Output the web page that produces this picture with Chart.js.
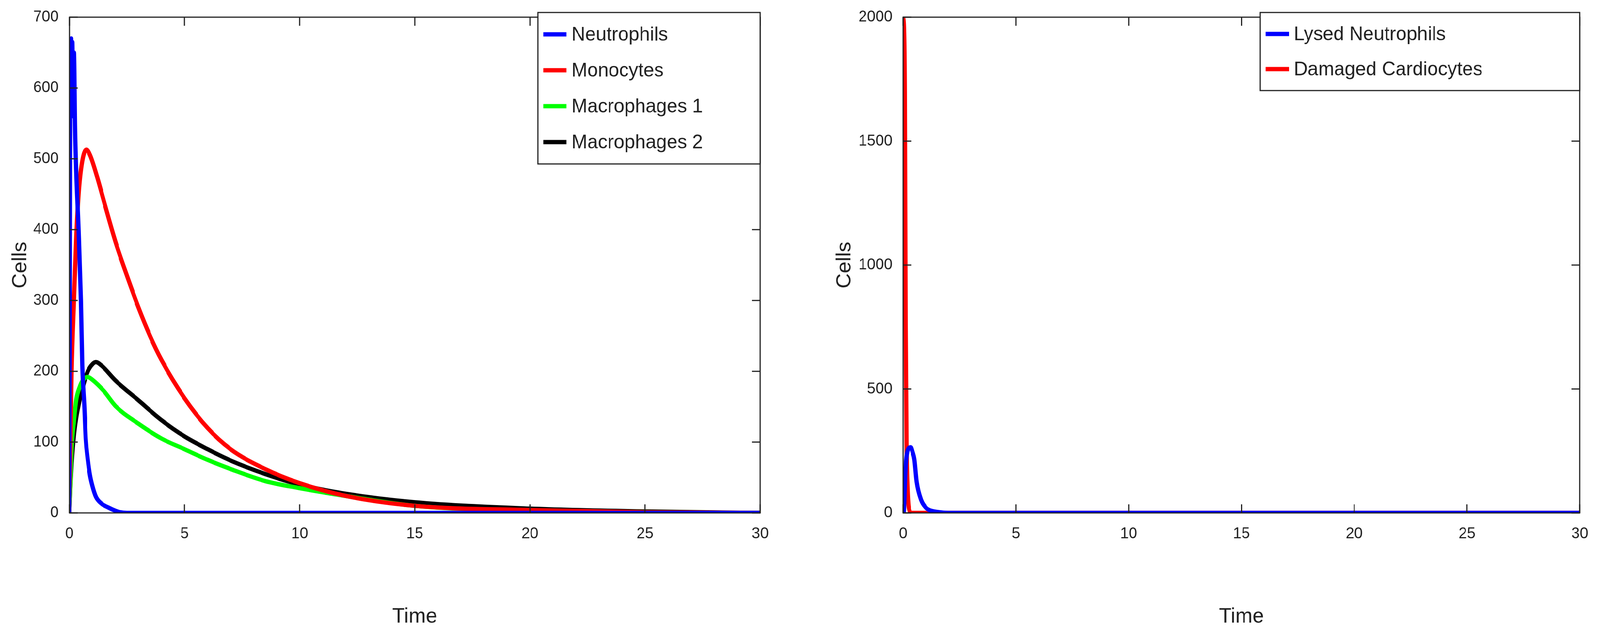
<!DOCTYPE html>
<html><head><meta charset="utf-8">
<script src="https://cdn.jsdelivr.net/npm/chart.js@4"></script>
<style>html,body{margin:0;background:#fff;overflow:hidden}
#wrap{position:absolute;left:0;top:0;width:4197px;height:1637px;transform-origin:0 0}
div.c{position:absolute;top:0;height:1637px}</style></head><body>
<div id="wrap">
<div class="c" style="left:0;width:2100px"><canvas id="a"></canvas></div>
<div class="c" style="left:2100px;width:2097px"><canvas id="b"></canvas></div>
</div>
<script>
const tNeu=[0,0.02,0.04,0.06,0.08,0.1,0.13,0.16,0.2,0.25,0.3,0.4,0.5,0.56,0.65,0.71,0.8,0.89,1.0,1.15,1.4,1.67,2.0,2.2,2.5,5,10,20,30];
const vNeu=[0,210,560,640,670,560,665,600,650,540,480,400,300,208,150,105,75,54,38,23,13,8,3,1,0,0,0,0,0];
const tMono=[0,0.05,0.1,0.2,0.3,0.4,0.55,0.74,0.9,1.2,1.5,2,2.5,3,3.5,4,5,6,7,8.5,10,12,15,20,25,30];
const vMono=[0,100,200,300,390,450,495,513,505,475,440,383,335,290,250,216,162,120,90,62,42,24,10,4,1,0];
const tM1=[0,0.05,0.1,0.2,0.3,0.45,0.6,0.8,1.0,1.5,2,3,4,5,6,7,8.5,10,12,15,20,25,28,30];
const vM1=[0,40,90,130,160,178,188,192,188,172,151,126,105,90,75,62,45,35,24,10,3,1,0,0];
const tM2=[0,0.05,0.1,0.2,0.3,0.45,0.6,0.8,1.0,1.15,1.4,2,3,4,5,6,7,8.5,10,12,15,20,25,30];
const vM2=[0,40,70,110,135,160,180,200,210,213,208,187,159,131,108,90,74,55,40,27,15,6,2,0];
const tLys=[0,0.03,0.05,0.08,0.12,0.18,0.25,0.34,0.42,0.5,0.6,0.8,1.0,1.2,1.5,2,3,10,20,30];
const vLys=[0,5,40,120,200,245,262,265,245,215,126,52,22,10,4,0,0,0,0,0];
const tDam=[0,0.04,0.075,0.11,0.15,0.19,0.23,0.28,0.34,1,5,10,20,30];
const vDam=[2000,1950,1690,773,275,110,37,10,0,0,0,0,0,0];
const xTicks=[0,5,10,15,20,25,30];
const yTicksA=[0,100,200,300,400,500,600,700];
const yTicksB=[0,500,1000,1500,2000];

const wrap=document.getElementById('wrap');
wrap.style.transform='scale('+(window.innerWidth/4197)+','+(window.innerHeight/1637)+')';

const F='"Liberation Sans", Arial, sans-serif';
const pts=(t,v)=>t.map((x,i)=>({x,y:v[i]}));
function ds(label,t,v,c){return {label,data:pts(t,v),borderColor:c,backgroundColor:c,borderWidth:11,pointRadius:0,cubicInterpolationMode:'monotone'};}

function boxPlugin(legendX,legendW,rowH,titleX){return {id:'box',afterDraw(ch){
  const c=ch.ctx,a=ch.chartArea,xs=ch.scales.x,ys=ch.scales.y;
  c.save();c.strokeStyle='#222';c.lineWidth=3;
  c.strokeRect(a.left,a.top,a.right-a.left,a.bottom-a.top);
  const L=22;c.beginPath();
  xs.ticks.forEach(t=>{const p=xs.getPixelForValue(t.value);c.moveTo(p,a.bottom);c.lineTo(p,a.bottom-L);c.moveTo(p,a.top);c.lineTo(p,a.top+L);});
  ys.ticks.forEach(t=>{const p=ys.getPixelForValue(t.value);c.moveTo(a.left,p);c.lineTo(a.left+L,p);c.moveTo(a.right,p);c.lineTo(a.right-L,p);});
  c.stroke();
  c.fillStyle='#222';c.font='54px '+F;c.textAlign='center';c.textBaseline='middle';
  c.fillText('Time',(a.left+a.right)/2,1580);
  c.save();c.translate(titleX,(a.top+a.bottom)/2);c.rotate(-Math.PI/2);c.fillText('Cells',0,0);c.restore();
  const n=ch.data.datasets.length,top=a.top-12,h=rowH*n+20;
  c.fillStyle='#fff';c.fillRect(legendX,top,legendW,h);
  c.lineWidth=3;c.strokeRect(legendX,top,legendW,h);
  c.textAlign='left';c.font='50px '+F;
  ch.data.datasets.forEach((d,i)=>{const y=top+10+rowH*(i+0.5);
    c.strokeStyle=d.borderColor;c.lineWidth=11;c.beginPath();c.moveTo(legendX+14,y);c.lineTo(legendX+75,y);c.stroke();
    c.fillStyle='#222';c.fillText(d.label,legendX+88,y+2);});
  c.restore();}};}

function opts(yT,yMax,yW,padR){return {responsive:false,animation:false,
  layout:{padding:{top:0,right:padR,left:0,bottom:0}},
  plugins:{legend:{display:false},tooltip:{enabled:false}},
  scales:{
   x:{type:'linear',min:0,max:30,grid:{display:false},border:{display:false},
      afterBuildTicks:s=>{s.ticks=xTicks.map(v=>({value:v}));},
      afterFit:s=>{s.height=323;},
      ticks:{font:{size:40,family:F},color:'#222',padding:22,maxRotation:0,callback:v=>String(v)}},
   y:{min:0,max:yMax,grid:{display:false},border:{display:false},
      afterBuildTicks:s=>{s.ticks=yT.map(v=>({value:v}));},
      afterFit:s=>{s.width=yW;},
      ticks:{font:{size:40,family:F},color:'#222',padding:20,callback:v=>String(v)}}}};}

function mk(id,w,datasets,o,plug){const cv=document.getElementById(id);cv.width=w;cv.height=1637;
  new Chart(cv,{type:'line',data:{datasets},options:o,plugins:[plug]});}

mk('a',2100,[ds('Neutrophils',tNeu,vNeu,'#0000ff'),ds('Monocytes',tMono,vMono,'#ff0000'),ds('Macrophages 1',tM1,vM1,'#00ff00'),ds('Macrophages 2',tM2,vM2,'#000000')],
  opts(yTicksA,700,182,106),boxPlugin(1411,583,92,54));
mk('b',2097,[ds('Lysed Neutrophils',tLys,vLys,'#0000ff'),ds('Damaged Cardiocytes',tDam,vDam,'#ff0000')],
  opts(yTicksB,2000,269,53),boxPlugin(1206,838,90,116));
</script></body></html>
